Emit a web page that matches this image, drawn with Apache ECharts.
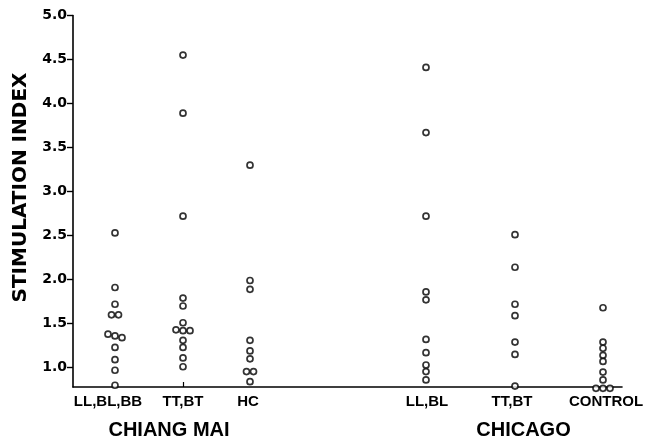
<!DOCTYPE html>
<html>
<head>
<meta charset="utf-8">
<script src="https://cdn.jsdelivr.net/npm/echarts@6/dist/echarts.min.js"></script>
<style>html,body{margin:0;padding:0;background:#fff;}#c{width:645px;height:439px;}</style>
</head>
<body>
<div id="c"></div>
<script>
// ---- data ----
const groupNames = ['LL,BL,BB', 'TT,BT', 'HC', 'LL,BL', 'TT,BT', 'CONTROL'];
const regionNames = ['CHIANG MAI', 'CHICAGO'];
const yTicks = [1.0, 1.5, 2.0, 2.5, 3.0, 3.5, 4.0, 4.5, 5.0];
const chiangMaiLLBLBB = [2.53, 1.91, 1.72, 1.60, 1.60, 1.38, 1.36, 1.34, 1.23, 1.09, 0.97, 0.80];
const chiangMaiTTBT = [4.55, 3.89, 2.72, 1.79, 1.70, 1.51, 1.43, 1.42, 1.42, 1.31, 1.23, 1.11, 1.01];
const chiangMaiHC = [3.30, 1.99, 1.89, 1.31, 1.19, 1.10, 0.955, 0.955, 0.84];
const chicagoLLBL = [4.41, 3.67, 2.72, 1.86, 1.77, 1.32, 1.17, 1.03, 0.955, 0.86];
const chicagoTTBT = [2.51, 2.14, 1.72, 1.59, 1.29, 1.15, 0.79];
const chicagoControl = [1.68, 1.29, 1.22, 1.14, 1.07, 0.95, 0.86, 0.765, 0.765, 0.765];
const groups = [chiangMaiLLBLBB, chiangMaiTTBT, chiangMaiHC, chicagoLLBL, chicagoTTBT, chicagoControl];

// ---- layout (axis units along the x axis) ----
const groupSlots = [42, 110, 177, 353, 442, 530];
const labelSlots = [35, 110, 175, 354, 439, 533];
const tickSlots = [110];

// spread points of near-equal value side by side (simple dodge)
function dodge(values, thr, step) {
  const idx = values.map((v, i) => i).sort((a, b) => values[b] - values[a]);
  const off = new Array(values.length).fill(0);
  let cluster = [];
  const flush = () => {
    const n = cluster.length;
    cluster.forEach((k, j) => { off[k] = (j - (n - 1) / 2) * step; });
    cluster = [];
  };
  idx.forEach(i => {
    if (cluster.length && values[cluster[cluster.length - 1]] - values[i] >= thr) flush();
    cluster.push(i);
  });
  flush();
  return off;
}

const series = groups.map((vals, gi) => {
  const offs = dodge(vals, 0.068, 7);
  return {
    type: 'scatter',
    clip: false,
    symbol: 'circle',
    symbolSize: 6,
    itemStyle: { color: '#fff', borderColor: '#000', borderWidth: 1.7 },
    emphasis: { disabled: true },
    data: vals.map((v, i) => ({ value: [groupSlots[gi], v], symbolOffset: [offs[i], 0] }))
  };
});

const chart = echarts.init(document.getElementById('c'), null, { renderer: 'canvas' });
chart.setOption({
  animation: false,
  backgroundColor: '#fff',
  grid: { left: 73, right: 23, top: 15.5, bottom: 52, outerBoundsMode: 'none' },
  xAxis: {
    type: 'value', min: 0, max: 549,
    axisLine: { onZero: false, lineStyle: { color: '#000', width: 1.6 } },
    splitLine: { show: false },
    axisTick: { customValues: tickSlots, inside: true, length: 5, lineStyle: { color: '#000', width: 1.2 } },
    axisLabel: {
      customValues: labelSlots,
      formatter: v => groupNames[labelSlots.indexOf(v)] || '',
      color: '#000', fontFamily: 'Liberation Sans', fontWeight: 'bold', fontSize: 15, margin: 7
    }
  },
  yAxis: {
    type: 'value', min: 0.78, max: 5.0,
    axisLine: { show: true, onZero: false, lineStyle: { color: '#000', width: 1.6 } },
    splitLine: { show: false },
    axisTick: { show: true, customValues: yTicks, length: 6, lineStyle: { color: '#000', width: 1.4 } },
    axisLabel: {
      customValues: yTicks,
      formatter: v => Number(v).toFixed(1),
      color: '#000', fontFamily: 'DejaVu Sans', fontWeight: 'bold', fontSize: 14, margin: 6
    }
  },
  graphic: [
    { type: 'text', x: 20.5, y: 187.5, rotation: Math.PI / 2,
      style: { text: 'STIMULATION INDEX', fill: '#000', font: 'bold 20px "DejaVu Sans"', textAlign: 'center', textVerticalAlign: 'middle' } },
    { type: 'text', x: 169, y: 430.5,
      style: { text: regionNames[0], fill: '#000', font: 'bold 20px "Liberation Sans"', textAlign: 'center', textVerticalAlign: 'middle' } },
    { type: 'text', x: 523.5, y: 430.5,
      style: { text: regionNames[1], fill: '#000', font: 'bold 20px "Liberation Sans"', textAlign: 'center', textVerticalAlign: 'middle' } }
  ],
  series: series
});
</script>
</body>
</html>
